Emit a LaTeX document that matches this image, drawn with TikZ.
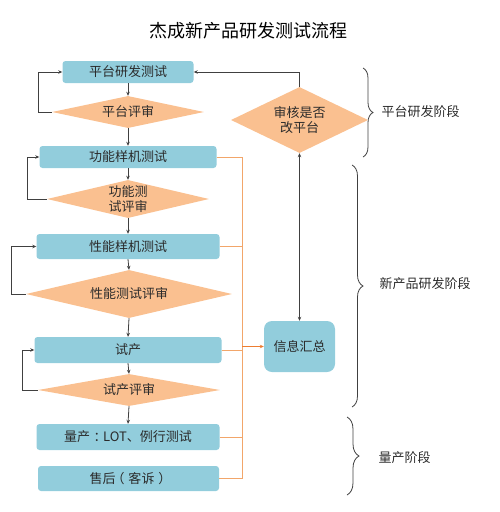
\documentclass[tikz,border=0pt]{standalone}
\usepackage{fontspec}
\setmainfont{Noto Sans CJK SC}
\usetikzlibrary{shapes.geometric, arrows.meta, decorations.pathreplacing}
\definecolor{boxblue}{HTML}{92CDDC}
\definecolor{diaorange}{HTML}{FAC090}
\definecolor{busorange}{HTML}{F2A66A}
\definecolor{arroworange}{HTML}{ED7D31}
\definecolor{linegray}{HTML}{404040}
\definecolor{txtgray}{HTML}{2B2B2B}

\begin{document}
\begin{tikzpicture}[x=1pt,y=-1pt]

 \tikzset{
    stepbox/.style={
      rectangle,
      rounded corners=3pt,
      fill=boxblue,
      inner sep=0pt,
      text=txtgray,
      font=\fontsize{13}{15}\selectfont
    },
    check/.style={
      diamond,
      fill=diaorange,
      inner sep=0pt,
      align=center,
      text=txtgray,
      font=\fontsize{13}{15}\selectfont
    },
    flow/.style={-{Stealth[length=4pt,width=3.5pt]}, linegray, line width=0.8pt},
    twoway/.style={{Stealth[length=4pt,width=3.5pt]}-{Stealth[length=4pt,width=3.5pt]}, linegray, line width=0.8pt},
    bus/.style={busorange, line width=1pt},
    busarrow/.style={-{Stealth[length=4pt,width=3.5pt]}, arroworange, line width=1.2pt},
    phase/.style={decorate, linegray, line width=0.8pt},
    phasetext/.style={anchor=west, text=txtgray, font=\fontsize{13}{15}\selectfont}
  }

\useasboundingbox (0,0) rectangle (500,512);

\node[text=black, font=\fontsize{18}{20}\selectfont] (title) at (248,31) {杰成新产品研发测试流程};

% main column
\node[stepbox, minimum width=131pt, minimum height=22pt] (ptest) at (128,72) {平台研发测试};
\node[check, minimum width=152pt, minimum height=32pt, aspect=4.75] (preview) at (128,112) {平台评审};
\node[stepbox, minimum width=177pt, minimum height=22pt] (ftest) at (128,157) {功能样机测试};
\node[check, minimum width=162pt, minimum height=38pt, aspect=4.26] (freview) at (128,199) {功能测\\试评审};
\node[stepbox, minimum width=183pt, minimum height=25pt] (stest) at (128,246.5) {性能样机测试};
\node[check, minimum width=206pt, minimum height=48pt, aspect=4.3] (sreview) at (129,294) {性能测试评审};
\node[stepbox, minimum width=187pt, minimum height=26pt] (trial) at (128,350) {试产};
\node[check, minimum width=182pt, minimum height=32pt, aspect=5.7] (treview) at (129,390) {试产评审};
\node[stepbox, minimum width=183pt, minimum height=26pt] (mass) at (128,437) {量产\kern3.5pt：\kern-3.5pt LOT、例行测试};
\node[stepbox, minimum width=181pt, minimum height=25pt] (after) at (128.5,478.5) {售后\kern-4pt（\kern4pt 客诉\kern4pt）\kern-4pt};

% right column
\node[check, minimum width=137pt, minimum height=66pt, aspect=2.08] (audit) at (299.5,120) {审核是否\\改平台};
\node[stepbox, rounded corners=8pt, minimum width=71pt, minimum height=51pt] (info) at (299.5,346.5) {信息汇总};

\foreach \a/\b in {ptest/preview, preview/ftest, ftest/freview, freview/stest,
                   stest/sreview, sreview/trial, trial/treview, treview/mass}
    \draw[flow] (\a.south) -- (\b.north);

% review loops
\draw[flow] (preview.west) -- ++(-13,0) |- (ptest.west);
\draw[flow] (freview.west) -- ++(-19,0) |- (ftest.west);
\draw[flow] (sreview.west) -- ++(-14,0) |- (stest.west);
\draw[flow] (treview.west) -- ++(-15,0) |- (trial.west);

\draw[flow] (audit.north) |- (ptest.east);
\draw[twoway] (info.north) -- (audit.south);

% collecting line
\coordinate (bus) at (242,157);
\draw[bus] (ftest.east) -- (bus) |- (after.east);
\foreach \n in {stest, trial, mass}
    \draw[bus] (\n.east) -- (\n.east -| bus);
\draw[busarrow] (info.west -| bus) -- (info.west);

% phases
\coordinate (p1a) at (363,68);  \coordinate (p1b) at (363,157);
\coordinate (p2a) at (352,165); \coordinate (p2b) at (352,407);
\coordinate (p3a) at (347,417); \coordinate (p3b) at (347,495);
\draw[phase, decoration={brace, amplitude=10pt}] (p1a) -- (p1b);
\draw[phase, decoration={brace, amplitude=11pt}] (p2a) -- (p2b);
\draw[phase, decoration={brace, amplitude=12pt}] (p3a) -- (p3b);
\node[phasetext] (ph1) at (378,112) {平台研发阶段};
\node[phasetext] (ph2) at (376,284) {新产品研发阶段};
\node[phasetext] (ph3) at (375,458) {量产阶段};

\end{tikzpicture}
\end{document}
